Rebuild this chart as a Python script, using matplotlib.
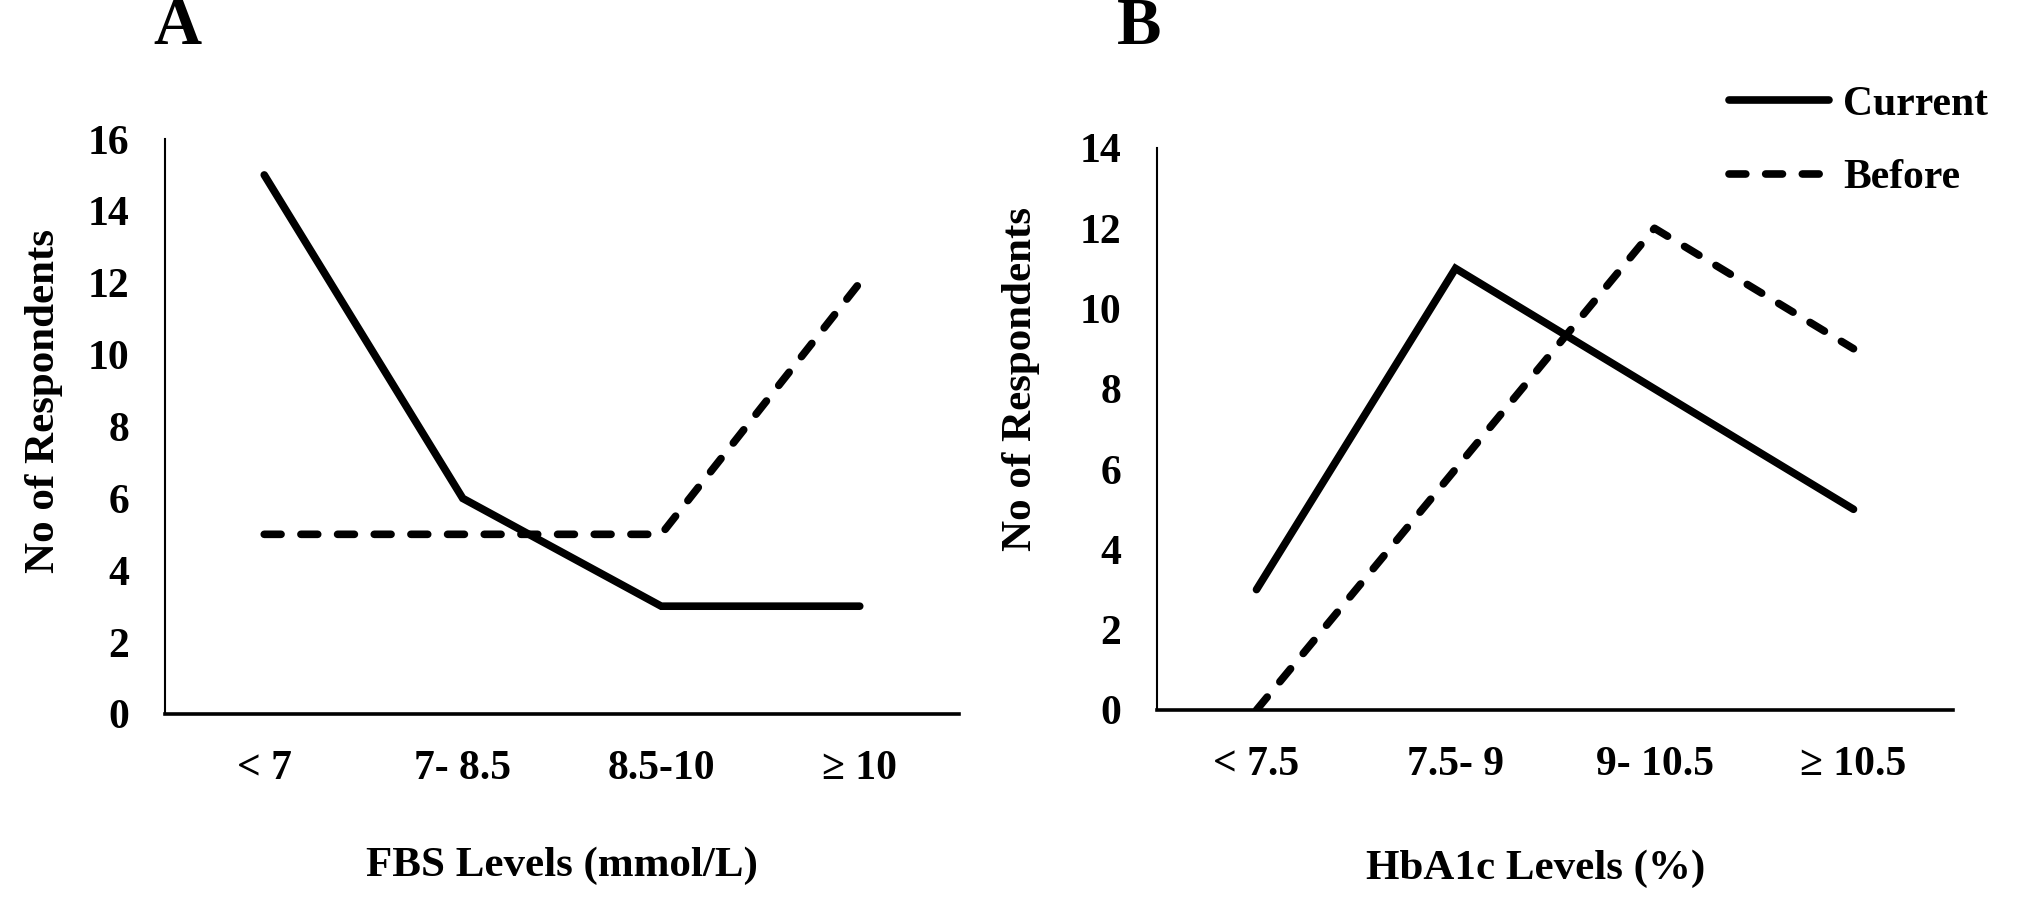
import matplotlib
matplotlib.use("Agg")
import matplotlib.pyplot as plt

plt.rcParams.update({'font.family': ['Liberation Serif', 'DejaVu Serif'],
                     'font.weight': 'bold', 'axes.labelweight': 'bold',
                     'font.size': 30})

# Panel A - FBS
fbs_labels = ['< 7', '7- 8.5', '8.5-10', '≥ 10']
fbs_current = [15, 6, 3, 3]
fbs_before = [5, 5, 5, 12]

# Panel B - HbA1c
hba_labels = ['< 7.5', '7.5- 9', '9- 10.5', '≥ 10.5']
hba_current = [3, 11, 8, 5]
hba_before = [0, 6, 12, 9]

W, H = 2028, 901
fig = plt.figure(figsize=(W / 100, H / 100), dpi=100)


def make_panel(rect, labels, current, before, ymax, xlabel, ylab_xy, xlab_xy):
    ax = fig.add_axes(rect)
    x = range(len(labels))
    ax.plot(x, current, color='black', lw=5.5, solid_capstyle='round',
            solid_joinstyle='miter', label='Current')
    ax.plot(x, before, color='black', lw=5.5, dashes=(2.2, 2.6),
            dash_capstyle='round', label='Before')
    ax.set_xlim(-0.5, len(labels) - 0.5)
    ax.set_ylim(0, ymax)
    ax.set_yticks(range(0, ymax + 1, 2))
    ax.set_xticks(list(x))
    ax.set_xticklabels(labels)
    ax.tick_params(length=0, pad=26)
    ax.spines['top'].set_visible(False)
    ax.spines['right'].set_visible(False)
    ax.spines['left'].set_linewidth(1.5)
    ax.spines['bottom'].set_linewidth(2.6)
    ax.set_ylabel('No of Respondents', fontsize=31, fontweight='bold')
    ax.yaxis.set_label_coords(*ylab_xy)
    ax.set_xlabel(xlabel, fontsize=31, fontweight='bold')
    ax.xaxis.set_label_coords(*xlab_xy)
    return ax


axA = make_panel([165 / W, 1 - 714 / H, 794 / W, 575 / H], fbs_labels,
                 fbs_current, fbs_before, 16, 'FBS Levels (mmol/L)',
                 (-0.128, 0.544), (0.5, -0.231))
axB = make_panel([1157 / W, 1 - 710 / H, 796 / W, 562 / H], hba_labels,
                 hba_current, hba_before, 14, 'HbA1c Levels (%)',
                 (-0.147, 0.589), (0.476, -0.249))

axB.legend(loc='upper left', bbox_to_anchor=(1691 / W, 1 - 48 / H),
           bbox_transform=fig.transFigure, frameon=False, fontsize=30,
           handlelength=2.4, handletextpad=0.35, labelspacing=0.85)

fig.text(177 / W, 1 - 44 / H, 'A', fontsize=48, ha='center', va='baseline')
fig.text(1139 / W, 1 - 44 / H, 'B', fontsize=48, ha='center', va='baseline')

fig.savefig('out.png', dpi=100)
